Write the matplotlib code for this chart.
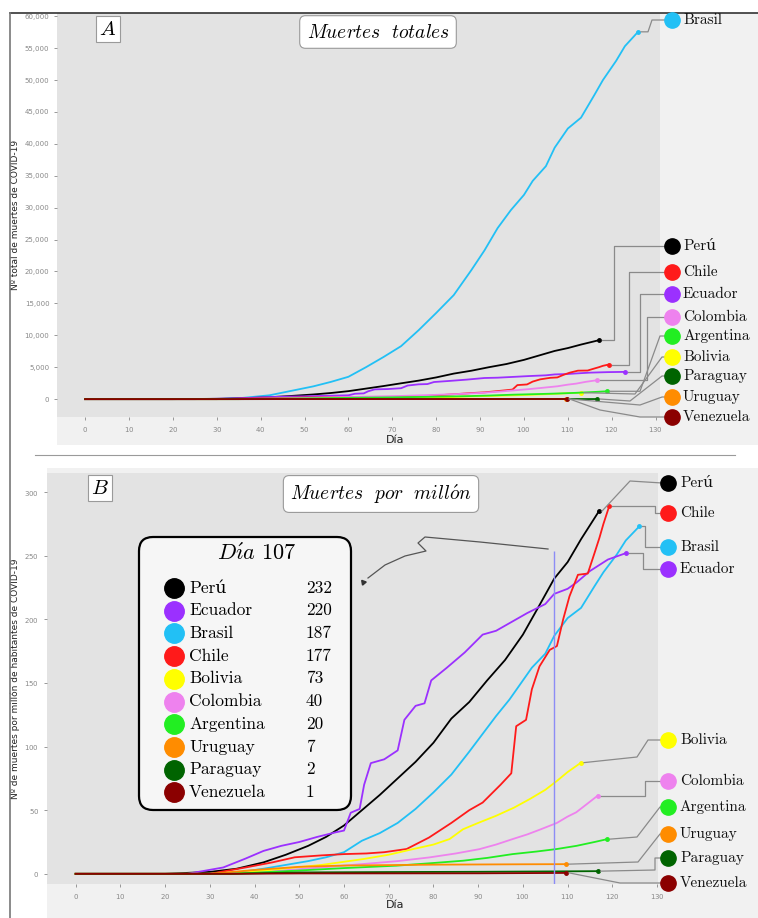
import matplotlib
matplotlib.use('Agg')
import matplotlib.pyplot as plt
from matplotlib.patches import FancyBboxPatch, Rectangle
from matplotlib.lines import Line2D
from matplotlib.transforms import Affine2D
from matplotlib.ticker import FuncFormatter, MultipleLocator

plt.rcParams['mathtext.fontset'] = 'cm'
plt.rcParams['axes.formatter.use_mathtext'] = True
SERIF = ['cmr10', 'DejaVu Serif']

W, H = 758, 918

# ---- data ----
days_peru = [0, 20, 30, 36, 42, 47, 52, 56, 60, 64, 68, 72, 76, 80, 84, 88, 92, 96, 100, 104, 107, 110, 113, 117]
pm_peru = [0, 0, 1.5, 4, 9, 15, 22, 29, 38, 50, 62, 75, 88, 103, 122, 135, 152, 168, 188, 213, 232, 245, 263, 285]
tot_peru = [0, 0, 50, 130, 300, 500, 730, 960, 1250, 1650, 2050, 2480, 2900, 3400, 4000, 4450, 5000, 5500, 6150, 6950, 7550, 8000, 8550, 9220]

days_ecuador = [0, 25, 33, 38, 42, 46, 50, 54, 58, 60, 61.5, 63.5, 64.5, 66, 69, 72, 73.5, 76, 78, 79.5, 83, 87, 91, 94, 98, 101, 105, 107, 110, 112, 115, 119, 123]
pm_ecuador = [0, 0, 5, 12, 18, 22, 25, 29, 32.5, 34, 48, 51, 70, 87, 90, 97, 121, 132, 134, 152, 162, 174, 188, 191, 199, 205, 212, 220, 224, 229, 238, 247, 252]
tot_ecuador = [0, 0, 90, 210, 320, 390, 440, 510, 570, 600, 845, 900, 1230, 1530, 1580, 1710, 2130, 2320, 2360, 2680, 2850, 3060, 3310, 3360, 3500, 3610, 3730, 3870, 3940, 4030, 4150, 4230, 4270]

days_brasil = [0, 30, 36, 42, 47, 52, 56, 60, 64, 68, 72, 76, 80, 84, 88, 91, 94, 97, 100, 102, 105, 107, 110, 113, 116, 118, 121, 123, 126]
pm_brasil = [0, 0, 1, 4, 7, 10, 13, 17, 26, 32, 40, 51, 64, 78, 96, 110, 124, 137, 152, 162, 173, 187, 201, 209, 226, 237, 251, 262, 273]
tot_brasil = [0, 0, 200, 600, 1300, 2000, 2700, 3500, 5000, 6600, 8300, 10800, 13500, 16300, 20200, 23300, 26800, 29600, 32000, 34200, 36500, 39400, 42400, 44100, 47600, 50000, 53000, 55300, 57550]

days_chile = [0, 30, 38, 44, 49, 55, 60, 65, 69, 74, 79, 84, 88, 91, 95, 97.4, 98.5, 100.7, 102, 103.7, 106, 107.6, 109, 110.4, 112.3, 114.5, 116, 117.1, 118, 119.3]
pm_chile = [0, 0, 5, 9, 13, 14.5, 15.5, 16, 17, 19.5, 28.5, 40, 50, 56, 70, 79, 116, 121, 145, 163, 176, 179, 200, 218, 235, 236, 252, 264, 275, 289]
tot_chile = [0, 0, 95, 170, 250, 275, 295, 305, 325, 370, 540, 760, 950, 1060, 1330, 1500, 2200, 2300, 2750, 3100, 3340, 3400, 3800, 4140, 4460, 4480, 4790, 5010, 5220, 5420]

days_bolivia = [0, 35, 45.6, 55, 64.3, 70, 75.4, 80, 83.6, 86.6, 90, 94, 98, 101.5, 105, 107.6, 110, 113]
pm_bolivia = [0, 0, 3.8, 7, 11.6, 15, 19.4, 23, 27.3, 35, 40, 45.6, 52, 58.7, 66, 73, 80, 87.4]
tot_bolivia = [0, 0, 44, 81, 135, 174, 225, 267, 317, 406, 464, 529, 603, 681, 766, 847, 928, 1010]

days_colombia = [0, 35, 45.6, 55, 64.3, 72, 79.1, 85, 90.3, 94, 97.7, 101, 104, 107.6, 110, 111.9, 114, 116.7]
pm_colombia = [0, 0, 2.5, 5, 7.7, 10, 12.9, 16, 19.4, 23, 27.3, 31, 35, 40, 45, 48.3, 54, 61.4]
tot_colombia = [0, 0, 126, 250, 390, 500, 650, 800, 980, 1160, 1370, 1560, 1760, 2010, 2270, 2430, 2700, 2970]

days_argentina = [0, 35, 49.4, 60, 71.7, 80, 86.6, 92, 97.7, 103, 107.6, 112, 116, 118.9]
pm_argentina = [0, 0, 2.5, 4.5, 6.4, 8.5, 10.3, 12.5, 15.5, 17.5, 19.5, 22, 25, 27.3]
tot_argentina = [0, 0, 110, 200, 290, 380, 460, 560, 700, 790, 880, 990, 1120, 1230]

days_uruguay = [0, 30, 40, 50, 60, 80, 100, 109.6]
pm_uruguay = [0, 0, 3, 5.5, 6.5, 7.2, 7.5, 7.6]
tot_uruguay = [0, 0, 10, 19, 23, 25, 26, 27]

days_paraguay = [0, 35, 50, 70, 90, 107, 116.7]
pm_paraguay = [0, 0, 1.1, 1.4, 1.6, 1.9, 2.1]
tot_paraguay = [0, 0, 8, 10, 11, 13, 15]

days_venezuela = [0, 35, 50, 70, 90, 109.7]
pm_venezuela = [0, 0, 0.3, 0.35, 0.4, 0.7]
tot_venezuela = [0, 0, 9, 10, 11, 20]

countries = ['Perú', 'Ecuador', 'Brasil', 'Chile', 'Bolivia', 'Colombia',
             'Argentina', 'Uruguay', 'Paraguay', 'Venezuela']
legend_day = 107
legend_values = [232, 220, 187, 177, 73, 40, 20, 7, 2, 1]

series = {
    'Perú': (days_peru, pm_peru, tot_peru),
    'Ecuador': (days_ecuador, pm_ecuador, tot_ecuador),
    'Brasil': (days_brasil, pm_brasil, tot_brasil),
    'Chile': (days_chile, pm_chile, tot_chile),
    'Bolivia': (days_bolivia, pm_bolivia, tot_bolivia),
    'Colombia': (days_colombia, pm_colombia, tot_colombia),
    'Argentina': (days_argentina, pm_argentina, tot_argentina),
    'Uruguay': (days_uruguay, pm_uruguay, tot_uruguay),
    'Paraguay': (days_paraguay, pm_paraguay, tot_paraguay),
    'Venezuela': (days_venezuela, pm_venezuela, tot_venezuela),
}

colors = {
    'Perú': '#000000', 'Ecuador': '#9b30ff', 'Brasil': '#22c0f5', 'Chile': '#ff1a1a',
    'Bolivia': '#ffff00', 'Colombia': '#ee82ee', 'Argentina': '#22ee22',
    'Uruguay': '#ff8c00', 'Paraguay': '#006400', 'Venezuela': '#8b0000',
}

draw_order = ['Brasil', 'Perú', 'Ecuador', 'Chile', 'Colombia', 'Bolivia',
              'Argentina', 'Uruguay', 'Paraguay', 'Venezuela']

# ---- label layout (pixels from top-left) ----
top_labels = {
    'Brasil': (20, [(648, None), (652, 20)]),
    'Perú': (246, [(614, None), (614, 246)]),
    'Chile': (272, [(629, None), (629, 272)]),
    'Ecuador': (294, [(640, None), (640, 294)]),
    'Colombia': (317, [(647, None), (647, 317)]),
    'Argentina': (336, [(640, None), (660, 336)]),
    'Bolivia': (357, [(635, 394), (662, 357)]),
    'Paraguay': (376, [(630, 401), (662, 376)]),
    'Uruguay': (397, [(640, 405), (662, 397)]),
    'Venezuela': (417, [(600, 410), (640, 417)]),
}
bottom_labels = {
    'Perú': (483, [(630, 481)]),
    'Chile': (513, [(655, None), (655, 513)]),
    'Brasil': (547, [(645, None), (645, 547)]),
    'Ecuador': (569, [(643, None), (643, 569)]),
    'Bolivia': (740, [(637, 757), (648, 740)]),
    'Colombia': (781, [(645, None), (645, 781)]),
    'Argentina': (807, [(637, 837), (660, 807)]),
    'Uruguay': (834, [(638, 862), (660, 834)]),
    'Paraguay': (858, [(655, 870), (655, 858)]),
    'Venezuela': (883, [(620, 883)]),
}

fig = plt.figure(figsize=(W / 100, H / 100), dpi=100)
fig.patch.set_facecolor('white')
PX = Affine2D().scale(1 / W, -1 / H).translate(0, 1) + fig.transFigure

# light outer backgrounds
fig.add_artist(Rectangle((57, 13), 701, 432, transform=PX, fc='#f1f1f1', ec='none', zorder=0))
fig.add_artist(Rectangle((47, 468), 711, 450, transform=PX, fc='#f1f1f1', ec='none', zorder=0))


def axes_px(left, top, right, bottom):
    return fig.add_axes([left / W, 1 - bottom / H, (right - left) / W, (bottom - top) / H])


ax1 = axes_px(57, 13, 660, 417)
ax2 = axes_px(47, 473, 658, 884)

for ax in (ax1, ax2):
    ax.set_facecolor('#e3e3e3')
    for s in ax.spines.values():
        s.set_visible(False)
    ax.set_xlim(-6.4, 131)
    ax.xaxis.set_major_locator(MultipleLocator(10))
    ax.tick_params(labelsize=5, colors='#888888', length=2, width=0.6)
    ax.set_xlabel('Día', fontsize=8, color='#222222')

ax2.set_xlim(-6.4, 130.2)
ax1.set_ylim(-2800, 60500)
ax1.yaxis.set_major_locator(MultipleLocator(5000))
ax1.yaxis.set_major_formatter(FuncFormatter(lambda v, p: f'{v:,.0f}'))
ax2.set_ylim(-8, 315)
ax2.yaxis.set_major_locator(MultipleLocator(50))

ax1.set_ylabel('Nº total de muertes de COVID-19', fontsize=6.5, color='#222222')
ax2.set_ylabel('Nº de muertes por millón de habitantes de COVID-19', fontsize=6.5, color='#222222')
ax1.yaxis.set_label_coords(-0.062, 0.5)
ax2.yaxis.set_label_coords(-0.044, 0.5)
ax1.xaxis.set_label_coords(0.56, -0.045)
ax2.xaxis.set_label_coords(0.57, -0.04)

for name in draw_order:
    d, pm, tot = series[name]
    ax1.plot(d, tot, color=colors[name], lw=1.3, zorder=3)
    ax1.plot(d[-1], tot[-1], 'o', color=colors[name], ms=2.5, zorder=3)
    ax2.plot(d, pm, color=colors[name], lw=1.3, zorder=3)
    ax2.plot(d[-1], pm[-1], 'o', color=colors[name], ms=2.5, zorder=3)

ax2.vlines(legend_day, -8, 254, color='#8c8cf5', lw=1, zorder=4)


def to_px(ax, x, y):
    dx, dy = ax.transData.transform((x, y))
    return dx, H - dy


def draw_labels(ax, labels, dot_x, text_x):
    for name, (ly, waypoints) in labels.items():
        d, pm, tot = series[name]
        yv = tot if ax is ax1 else pm
        x0, y0 = to_px(ax, d[-1], yv[-1])
        xs, ys = [x0 + 3], [y0]
        for wx, wy in waypoints:
            xs.append(wx)
            ys.append(y0 if wy is None else wy)
        xs.append(dot_x - 6)
        ys.append(ly)
        fig.add_artist(Line2D(xs, ys, transform=PX, color='#8a8a8a', lw=0.9, zorder=2))
        fig.add_artist(Line2D([dot_x], [ly], transform=PX, marker='o', ms=11,
                              color=colors[name], ls='none', zorder=5))
        fig.text(text_x, ly, name, transform=PX, fontsize=11, family=SERIF,
                 color='#111111', va='center', ha='left', zorder=5)


draw_labels(ax1, top_labels, 672, 683)
draw_labels(ax2, bottom_labels, 668, 680)

# titles and panel letters
title_box = dict(boxstyle='round,pad=0.35,rounding_size=0.3', fc='white', ec='#9a9a9a', lw=0.8)
fig.text(378, 32, r'$Muertes\ \ totales$', transform=PX, fontsize=14,
         ha='center', va='center', bbox=title_box, zorder=6)
fig.text(381, 494, r'$Muertes\ \ por\ \ mill\acute{o}n$', transform=PX, fontsize=14,
         ha='center', va='center', bbox=title_box, zorder=6)
letter_box = dict(boxstyle='square,pad=0.15', fc='white', ec='#9a9a9a', lw=0.8)
fig.text(108, 29, r'$A$', transform=PX, fontsize=15, ha='center', va='center',
         bbox=letter_box, zorder=6)
fig.text(100, 488, r'$B$', transform=PX, fontsize=15, ha='center', va='center',
         bbox=letter_box, zorder=6)

# legend box for day 107
fig.add_artist(FancyBboxPatch((139, 537), 212, 273, transform=PX,
                              boxstyle='round,pad=0,rounding_size=14',
                              fc='#f6f6f6', ec='black', lw=1.6, zorder=6))
fig.text(257, 553, r'$D\acute{\imath}a$ ' + str(legend_day), transform=PX, fontsize=16,
         family=SERIF, ha='center', va='center', zorder=7)
for i, (name, val) in enumerate(zip(countries, legend_values)):
    y = 588 + i * 22.7
    fig.add_artist(Line2D([174], [y], transform=PX, marker='o', ms=14,
                          color=colors[name], ls='none', zorder=7))
    fig.text(189, y, name, transform=PX, fontsize=12.5, family=SERIF,
             ha='left', va='center', zorder=7)
    fig.text(306, y, str(val), transform=PX, fontsize=12.5, family=SERIF,
             ha='left', va='center', zorder=7)

# arrow from the day line to the legend box
arr_x = [548, 480, 425, 418, 426, 405, 385, 368]
arr_y = [549, 542, 537, 543, 551, 556, 565, 578]
fig.add_artist(Line2D(arr_x, arr_y, transform=PX, color='#555555', lw=0.9, zorder=6))
fig.add_artist(Line2D([363], [582], transform=PX, marker=(3, 0, 40), ms=4,
                      color='#333333', ls='none', zorder=6))

# frame lines
fig.add_artist(Line2D([10, 758], [13, 13], transform=PX, color='#333333', lw=1.2))
fig.add_artist(Line2D([10, 10], [13, 918], transform=PX, color='#777777', lw=1.2))
fig.add_artist(Line2D([35, 735], [455, 455], transform=PX, color='#9a9a9a', lw=0.8))

fig.savefig('out.png', dpi=100)
